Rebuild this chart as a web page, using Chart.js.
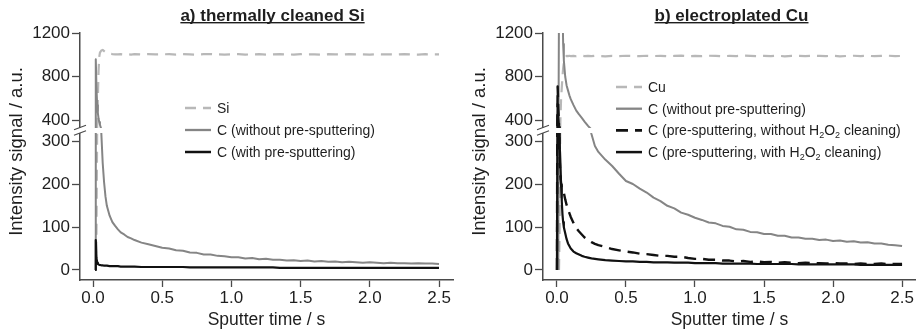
<!DOCTYPE html>
<html><head><meta charset="utf-8">
<script src="https://cdn.jsdelivr.net/npm/chart.js@4.4.1/dist/chart.umd.min.js"></script>
<style>
html,body{margin:0;padding:0;background:#fff;}
#wrap{position:relative;width:916px;height:336px;overflow:hidden;background:#fff;}
.panel{position:absolute;top:0;width:458px;height:336px;}
#pa{left:0}
#pb{left:458px}
</style></head><body>
<div id="wrap"><div class="panel" id="pa"><canvas id="ca" width="458" height="336"></canvas></div><div class="panel" id="pb"><canvas id="cb" width="458" height="336"></canvas></div></div>
<script>
// ---------------- data ----------------
const times = [0,0.005,0.01,0.015,0.02,0.025,0.03,0.035,0.04,0.045,0.05,0.06,0.07,0.08,0.09,0.1,0.12,0.14,0.16,0.18,0.2,0.225,0.25,0.275,0.3,0.35,0.4,0.45,0.5,
  0.55,0.6,0.65,0.7,0.75,0.8,0.85,0.9,0.95,1.0,
  1.05,1.1,1.15,1.2,1.25,1.3,1.35,1.4,1.45,1.5,
  1.55,1.6,1.65,1.7,1.75,1.8,1.85,1.9,1.95,2.0,
  2.05,2.1,2.15,2.2,2.25,2.3,2.35,2.4,2.45,2.5];

// panel a) thermally cleaned Si
const siSignal = [null,null,null,0,0,80,330,600,850,980,1020,1040,1045,1035,1025,1018,1010,1007,1005,1004,1006,1003,1005,1002,1006,1003,1007,1004,1005,
  1006,1003,1007,1004,1002,1006,1008,1004,1003,1005,
  1007,1003,1004,1006,1002,1005,1007,1004,1003,1006,
  1004,1005,1002,1006,1004,1003,1007,1005,1004,1002,
  1006,1004,1005,1003,1007,1004,1002,1006,1004,1005];
const cNoPreA = [null,null,null,0,960,700,540,470,420,385,360,320,250,205,172,150,127,112,103,95,88,83,77,74,70,64,60,56,52,
  50,46,45,41,40,36,36,33,32,30,
  30,27,28,25,26,24,24,22,23,21,
  22,20,21,19,20,18,19,18,17,18,
  17,16,17,16,16,15,16,15,15,14];
const cPreA = [null,null,null,0,70,28,17,14,13,12,12,11,11,10,10,10,9,9,9,9,8,8,8,8,8,7,7,7,7,
  7,7,7,6,6,6,6,6,6,6,
  6,6,6,6,6,6,5,5,5,5,
  5,5,5,5,5,5,5,5,5,5,
  5,5,5,5,5,5,5,5,5,5];

// panel b) electroplated Cu
const cuSignal = [null,null,null,0,100,400,600,700,800,880,930,975,990,988,992,989,991,987,990,993,989,991,988,992,990,987,991,989,992,
  990,988,992,989,991,987,990,993,988,991,
  989,992,990,987,991,989,993,990,988,991,
  989,992,987,990,991,988,992,990,989,991,
  987,990,992,989,991,988,990,992,989,990];
const cNoPreB = [null,null,0,1500,1500,1500,1500,1500,1450,1100,950,800,720,675,630,595,540,490,455,424,390,350,318,290,276,258,243,225,208,
  201,190,181,169,161,150,144,134,129,122,
  117,111,109,103,101,95,94,89,88,84,
  84,80,80,76,76,73,73,70,71,68,
  69,66,67,64,65,62,62,59,58,56];
const cPreNoH2O2 = [0,710,500,350,260,220,200,192,188,185,180,165,152,142,133,124,110,98,90,83,76,70,65,61,58,54,49,46,43,
  41,38,37,35,33,33,31,31,28,26,
  26,24,24,22,22,20,21,19,20,18,
  19,17,18,17,16,17,16,16,15,16,
  15,15,14,15,14,14,15,14,14,14];
const cPreH2O2 = [0,550,420,340,290,250,200,160,130,112,100,86,72,62,56,50,43,39,36,33,31,29,27,26,25,23,22,21,20,
  20,19,19,18,18,18,17,17,17,16,
  16,16,16,15,15,15,15,15,14,14,
  14,14,14,14,13,13,13,13,13,13,
  13,13,13,12,12,12,12,12,12,12];

const xTicks = [0,0.5,1.0,1.5,2.0,2.5];
const yTicksUpper = [400,800,1200];
const yTicksLower = [0,100,200,300];

const xLabel = 'Sputter time / s';
const yLabel = 'Intensity signal / a.u.';
const titleA = 'a) thermally cleaned Si';
const titleB = 'b) electroplated Cu';
const labelsA = ['Si','C (without pre-sputtering)','C (with pre-sputtering)'];
const labelsB = ['Cu','C (without pre-sputtering)','C (pre-sputtering, without H_2O_2 cleaning)','C (pre-sputtering, with H_2O_2 cleaning)'];

// ---------------- styles ----------------
const FONT = '"Liberation Sans", Arial, Helvetica, sans-serif';
const TEXT = '#1e1e1e';
const AXIS = '#4a4a4a';
const LIGHT = {color:'#b8b8b8', width:2.2, dash:[11,7]};
const GRAY  = {color:'#858585', width:2, dash:[]};
const BLACK = {color:'#111111', width:2.2, dash:[]};
const BLACKDASH = {color:'#111111', width:2.4, dash:[12,7]};

Chart.defaults.font.family = FONT;
Chart.defaults.color = TEXT;

function richSegments(text){
  const segs=[]; let cur='';
  for(let i=0;i<text.length;i++){
    if(text[i]==='_' && i+1<text.length){ if(cur){segs.push({t:cur,sub:false});cur='';} segs.push({t:text[i+1],sub:true}); i++; }
    else cur+=text[i];
  }
  if(cur) segs.push({t:cur,sub:false});
  return segs;
}

const deco = {
  id:'deco',
  beforeDatasetDraw(chart,args){
    const ctx=chart.ctx, ca=chart.chartArea;
    const ys=chart.scales[args.meta.yAxisID];
    const g=2.5;
    let top=ys.top, bot=ys.bottom;
    if(args.meta.yAxisID==='yTop') bot-=g; else top+=g;
    ctx.save(); ctx.beginPath(); ctx.rect(ca.left,top,ca.right-ca.left,bot-top); ctx.clip();
  },
  afterDatasetDraw(chart){ chart.ctx.restore(); },
  afterDraw(chart,args,o){
    const ctx=chart.ctx, ca=chart.chartArea;
    const by=chart.scales.yTop.bottom;
    ctx.save();
    // axis break
    ctx.fillStyle='#fff';
    ctx.fillRect(ca.left-3,by-2.5,6,5);
    ctx.strokeStyle=AXIS; ctx.lineWidth=1.2;
    for(const off of [-3,2.5]){
      ctx.beginPath(); ctx.moveTo(ca.left-6,by+off+2.3); ctx.lineTo(ca.left+6,by+off-2.3); ctx.stroke();
    }
    // panel title (bold, underlined)
    ctx.fillStyle=TEXT;
    ctx.font='bold 17px '+FONT;
    ctx.textAlign='center'; ctx.textBaseline='alphabetic';
    const cx=(ca.left+ca.right)/2+o.titleShift;
    ctx.fillText(o.title,cx,20.5);
    const w=ctx.measureText(o.title).width;
    ctx.fillRect(cx-w/2,22,w,1.4);
    // y axis title
    ctx.save();
    ctx.translate(o.yTitleX,(ca.top+ca.bottom)/2-5);
    ctx.rotate(-Math.PI/2);
    ctx.font='18.5px '+FONT; ctx.textBaseline='middle'; ctx.textAlign='center';
    ctx.fillText(yLabel,0,0);
    ctx.restore();
    // legend
    ctx.textAlign='left'; ctx.textBaseline='alphabetic';
    o.items.forEach((it,i)=>{
      const y=o.legendY+i*o.legendStep;
      ctx.save();
      ctx.strokeStyle=it.style.color; ctx.lineWidth=it.style.width+0.3; ctx.setLineDash(it.style.dash);
      ctx.beginPath(); ctx.moveTo(o.legendX,y); ctx.lineTo(o.legendX+26,y); ctx.stroke();
      ctx.restore();
      let x=o.legendX+32;
      ctx.fillStyle=TEXT;
      for(const s of richSegments(it.label)){
        ctx.font=(s.sub?'9px ':'14px ')+FONT;
        ctx.fillText(s.t,x,y+(s.sub?8:5));
        x+=ctx.measureText(s.t).width;
      }
    });
    ctx.restore();
  }
};

function pts(vals){ return times.map((t,i)=>({x:t,y:vals[i]})); }

// series: legend order; draw order given by 'z' (0 = on top)
function makeChart(id, series, opt){
  const datasets=[];
  series.forEach((s)=>{
    for(const ax of ['yTop','yBot']){
      datasets.push({label:s.label,data:pts(s.values),yAxisID:ax,xAxisID:'x',
        borderColor:s.style.color,borderWidth:s.style.width,borderDash:s.style.dash,
        pointRadius:0,tension:0,fill:false,spanGaps:false,order:s.z,borderJoinStyle:'round'});
    }
  });
  const tickFont={size:17,family:FONT};
  const yCommon = {
    type:'linear',position:'left',stack:'left',
    grid:{drawOnChartArea:false,drawTicks:true,tickLength:8,tickColor:AXIS,tickWidth:1.3},
    border:{display:true,color:AXIS,width:1.5},
    ticks:{font:tickFont,color:TEXT,padding:2,autoSkip:false,callback:(v)=>String(v)},
    afterFit:(s)=>{s.width=opt.axisLeft;}
  };
  return new Chart(document.getElementById(id),{
    type:'line',
    data:{datasets},
    options:{
      responsive:false,animation:false,devicePixelRatio:1,
      layout:{padding:{top:33,right:opt.padRight,left:0,bottom:0}},
      plugins:{legend:{display:false},tooltip:{enabled:false},
        deco:{title:opt.title,titleShift:opt.titleShift,yTitleX:opt.yTitleX,legendX:opt.legendX,legendY:opt.legendY,legendStep:opt.legendStep,
          items:series.map(s=>({label:s.label,style:s.style}))}},
      scales:{
        x:{type:'linear',position:'bottom',min:opt.xMin,max:2.601,
          afterBuildTicks:(s)=>{s.ticks=xTicks.map(v=>({value:v}));},
          grid:{drawOnChartArea:false,drawTicks:true,tickLength:7,tickColor:AXIS,tickWidth:1.3},
          border:{display:true,color:AXIS,width:1.5},
          ticks:{font:tickFont,color:TEXT,padding:1,maxRotation:0,autoSkip:false,callback:(v)=>Number(v).toFixed(1)},
          title:{display:true,text:xLabel,font:{size:17.5,family:FONT},color:TEXT,padding:{top:0,bottom:5}},
          afterFit:(s)=>{s.height=56;}
        },
        yBot:Object.assign({},yCommon,{stackWeight:149.5,min:-23.4,max:326,
          afterBuildTicks:(s)=>{s.ticks=yTicksLower.map(v=>({value:v}));}}),
        yTop:Object.assign({},yCommon,{stackWeight:97.5,min:308,max:1200,
          afterBuildTicks:(s)=>{s.ticks=yTicksUpper.map(v=>({value:v}));}})
      }
    },
    plugins:[deco]
  });
}

makeChart('ca',[
  {label:labelsA[0],values:siSignal,style:LIGHT,z:2},
  {label:labelsA[1],values:cNoPreA,style:GRAY,z:1},
  {label:labelsA[2],values:cPreA,style:BLACK,z:0}
],{axisLeft:80,padRight:5,xMin:-0.094,title:titleA,titleShift:6,yTitleX:17,legendX:185,legendY:108,legendStep:22});

makeChart('cb',[
  {label:labelsB[0],values:cuSignal,style:LIGHT,z:3},
  {label:labelsB[1],values:cNoPreB,style:GRAY,z:2},
  {label:labelsB[2],values:cPreNoH2O2,style:BLACKDASH,z:1},
  {label:labelsB[3],values:cPreH2O2,style:BLACK,z:0}
],{axisLeft:85,padRight:0,xMin:-0.101,title:titleB,titleShift:2,yTitleX:22,legendX:158,legendY:87,legendStep:21.7});
</script>
</body></html>
